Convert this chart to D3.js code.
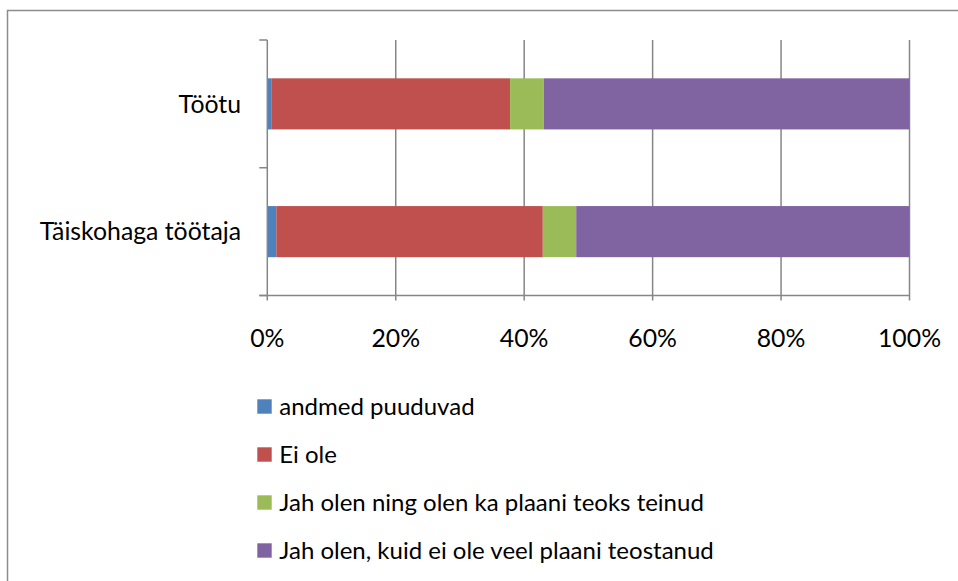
<!DOCTYPE html>
<html><head><meta charset="utf-8">
<script src="https://cdn.jsdelivr.net/npm/d3@7"></script>
<style>body{margin:0;background:#fff;} svg{display:block;}</style>
</head><body>
<svg id="c" width="958" height="581"></svg>
<script>
const categories = ["Töötu", "Täiskohaga töötaja"];
const seriesNames = ["andmed puuduvad", "Ei ole", "Jah olen ning olen ka plaani teoks teinud", "Jah olen, kuid ei ole veel plaani teostanud"];
const seriesColors = ["#4f81bd", "#c0504d", "#9bbb59", "#8064a2"];
const andmedPuuduvad = [0.7, 1.4];
const eiOle = [37.1, 41.5];
const jahTeinud = [5.25, 5.2];
const jahEiTeostanud = [56.95, 51.9];
const tickValues = [0, 20, 40, 60, 80, 100];
const tickLabels = ["0%", "20%", "40%", "60%", "80%", "100%"];

(function () {
const font = "Lato, 'Open Sans', sans-serif";
const fs = 24.8;
const svg = d3.select("#c");
svg.append("rect").attr("x", 7.5).attr("y", 10.5).attr("width", 1000).attr("height", 1000)
  .attr("fill", "none").attr("stroke", "#8c8c8c").attr("stroke-width", 1.5);

const pL = 267.3, pR = 909.5, pT = 40, pB = 295.5;
const x = d3.scaleLinear().domain([0, 100]).range([pL, pR]);
const y = d3.scaleBand().domain(categories).range([pT, pB]).paddingInner(0.6).paddingOuter(0.3);

const gridColor = "#868686";
svg.append("g").selectAll("line").data(tickValues.slice(1)).join("line")
  .attr("x1", d => x(d)).attr("x2", d => x(d)).attr("y1", pT).attr("y2", pB + 5)
  .attr("stroke", gridColor).attr("stroke-width", 1.5);

const seriesVals = [andmedPuuduvad, eiOle, jahTeinud, jahEiTeostanud];
const rows = categories.map((c, i) => {
  const o = {cat: c};
  seriesNames.forEach((s, j) => o[s] = seriesVals[j][i]);
  return o;
});
const stack = d3.stack().keys(seriesNames)(rows);
svg.append("g").selectAll("g").data(stack).join("g")
  .attr("fill", (d, i) => seriesColors[i])
  .selectAll("rect").data(d => d).join("rect")
  .attr("x", d => x(d[0])).attr("width", d => x(d[1]) - x(d[0]))
  .attr("y", d => y(d.data.cat)).attr("height", y.bandwidth());

svg.append("line").attr("x1", pL).attr("x2", pL).attr("y1", pT).attr("y2", pB + 5)
  .attr("stroke", gridColor).attr("stroke-width", 1.5);
const yTicks = [pT, pT + y.step(), pB];
svg.append("g").selectAll("line").data(yTicks).join("line")
  .attr("x1", pL - 8).attr("x2", pL).attr("y1", d => d).attr("y2", d => d)
  .attr("stroke", gridColor).attr("stroke-width", 1.5);
svg.append("line").attr("x1", pL - 8).attr("x2", pR).attr("y1", pB).attr("y2", pB)
  .attr("stroke", gridColor).attr("stroke-width", 1.5);

svg.append("g").selectAll("text").data(tickValues).join("text")
  .attr("x", d => x(d)).attr("y", 338).attr("dy", "0.35em").attr("text-anchor", "middle")
  .attr("font-family", font).attr("font-size", fs).attr("fill", "#000")
  .text((d, i) => tickLabels[i]);

svg.append("g").selectAll("text").data(categories).join("text")
  .attr("x", 241).attr("y", d => y(d) + y.bandwidth() / 2).attr("dy", "0.35em")
  .attr("text-anchor", "end").attr("font-family", font).attr("font-size", fs).attr("fill", "#000")
  .text(d => d);

const lg = svg.append("g").selectAll("g").data(seriesNames).join("g")
  .attr("transform", (d, i) => `translate(257.3, ${406.5 + i * 48})`);
lg.append("rect").attr("x", 0).attr("y", -7.2).attr("width", 14.4).attr("height", 14.4)
  .attr("fill", (d, i) => seriesColors[i]);
lg.append("text").attr("x", 22).attr("y", 0).attr("dy", "0.35em")
  .attr("font-family", font).attr("font-size", 24).attr("fill", "#000").text(d => d);
})();
</script>
</body></html>
